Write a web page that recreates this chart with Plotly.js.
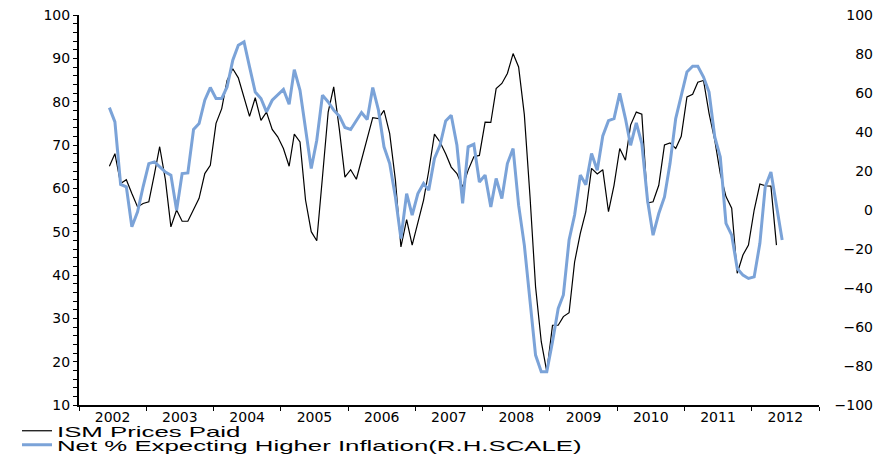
<!DOCTYPE html>
<html>
<head>
<meta charset="utf-8">
<script src="https://cdn.plot.ly/plotly-3.0.1.min.js"></script>
<style>
  html, body { margin: 0; padding: 0; background: #ffffff; }
  #chart { width: 885px; height: 454px; }
  /* the reference legend text is drawn horizontally stretched */
  #chart text.legendtext,
  #chart g[class^="legend"] text {
    transform-box: fill-box !important;
    transform-origin: 0 50% !important;
    transform: scaleX(1.72) !important;
  }
  #chart g.scrollbox, #chart g[class^="legend"] { clip-path: none !important; }
</style>
</head>
<body>
<div id="chart"></div>
<script>
// ---- Data (monthly) ----
const seriesNames = ["ISM Prices Paid", "Net % Expecting Higher Inflation(R.H.SCALE)"];
const ismStart = [2002, 6];   // first month of ISM series (year, month)
const netStart = [2002, 6];   // first month of survey series
// ISM Prices Paid (left scale), Jun 2002 - May 2012
const ismPricesPaid = [
  65.1,68.0,61.1,62.0,58.8,55.7,56.5,56.9,63.4,69.6,
  62.0,51.1,55.0,52.4,52.4,55.0,57.7,63.4,65.3,75.0,
  78.4,84.9,87.6,85.5,81.1,76.6,80.9,75.7,77.6,73.6,
  71.9,69.2,65.1,72.5,70.7,57.3,50.0,47.9,62.6,77.6,
  83.4,73.5,62.6,64.3,62.1,66.5,71.1,76.3,76.1,78.0,
  72.6,61.9,46.5,52.8,46.9,51.9,57.3,64.0,72.5,70.7,
  68.0,64.9,63.4,60.3,64.2,67.3,67.6,75.3,75.2,83.0,
  84.2,86.5,91.1,88.0,77.0,58.0,37.3,24.6,17.7,28.4,
  28.4,30.4,31.3,43.0,49.6,54.6,64.6,63.3,64.3,54.6,
  60.7,69.2,66.5,74.6,77.6,77.1,56.6,56.9,60.7,70.0,
  70.5,69.2,72.0,81.1,81.7,84.5,84.9,77.3,71.1,63.4,
  58.1,55.4,40.4,44.6,46.9,55.0,61.0,60.6,60.5,46.9
];
// Net % expecting higher inflation (right scale), Jun 2002 - Jun 2012
const netExpectingHigher = [
  52.5,45.2,13.1,11.9,-8.6,-0.9,11.9,23.8,24.7,22.1,
  19.5,17.9,-0.1,18.7,19.0,41.3,44.3,56.3,62.8,57.2,
  57.2,63.1,76.8,84.5,86.2,73.4,60.5,57.2,50.3,56.3,
  58.9,61.8,54.2,72.0,61.4,41.8,21.3,35.8,58.9,55.4,
  51.2,48.1,42.3,41.3,46.0,50.0,46.4,62.8,51.2,32.4,
  23.8,6.7,-14.6,8.4,-2.6,8.4,13.6,10.2,26.4,33.2,
  45.7,48.6,33.2,3.4,32.4,33.7,14.4,17.9,1.6,16.2,
  5.9,23.8,31.5,2.5,-18.0,-45.0,-74.4,-82.9,-82.9,-67.6,
  -50.5,-43.6,-15.4,-2.6,17.9,13.0,29.0,20.4,38.0,45.8,
  46.9,59.8,46.9,33.2,44.7,34.1,5.0,-12.9,-1.8,6.7,
  23.8,46.9,58.9,70.8,73.7,73.7,68.2,60.5,37.5,27.2,
  -6.9,-12.9,-30.0,-33.4,-35.1,-34.3,-17.1,11.9,19.5,1.6,
  -15.4
];
const leftTicks = [10,20,30,40,50,60,70,80,90,100];
const rightTicks = [-100,-80,-60,-40,-20,0,20,40,60,80,100];

// month labels for each observation (mid-month)
function monthDates(start, n) {
  const out = [];
  for (let i = 0; i < n; i++) {
    const m0 = start[1] - 1 + i;
    const y = start[0] + Math.floor(m0 / 12);
    const m = (m0 % 12) + 1;
    out.push(y + "-" + String(m).padStart(2, "0") + "-15");
  }
  return out;
}

const W = 885, ML = 79, MR = 10, MT = 15, MB = 49;
const paperW = W - ML - MR;           // 796
const paperH = 454 - MT - MB;         // 390
const plotRight = 819;
const px = v => (v - ML) / paperW;    // pixel -> paper x
const py = v => (454 - MB - v) / paperH; // pixel -> paper y

const tickFont = {family: "DejaVu Sans, Liberation Sans, Arial", size: 14, color: "#000"};

const traces = [
  {
    x: monthDates(ismStart, ismPricesPaid.length), y: ismPricesPaid,
    name: seriesNames[0], type: "scatter", mode: "lines",
    line: {color: "#000000", width: 1.2},
    xaxis: "x", yaxis: "y", legend: "legend", hoverinfo: "skip"
  },
  {
    x: monthDates(netStart, netExpectingHigher.length), y: netExpectingHigher,
    name: seriesNames[1], type: "scatter", mode: "lines",
    line: {color: "#7ba3d8", width: 3},
    xaxis: "x", yaxis: "y3", legend: "legend2", hoverinfo: "skip"
  }
];

const legendFont = {family: "Liberation Sans, Arial", size: 15, color: "#000"};
const layout = {
  width: 885, height: 454,
  margin: {l: ML, r: MR, t: MT, b: MB, pad: 0, autoexpand: false},
  paper_bgcolor: "#fff", plot_bgcolor: "#fff",
  showlegend: true,
  xaxis: {
    type: "date", domain: [0, px(plotRight)],
    range: ["2002-01-01", "2013-01-01"],
    tick0: "2002-01-01", dtick: "M12", tickformat: "%Y",
    ticklabelmode: "period", ticklabelstandoff: -6,
    ticks: "outside", ticklen: 4, tickwidth: 1, tickcolor: "#000",
    showline: true, linecolor: "#000", linewidth: 2,
    showgrid: false, zeroline: false, tickfont: tickFont
  },
  yaxis: {
    range: [10, 100], tickvals: leftTicks,
    ticks: "outside", ticklen: 4, tickwidth: 1, tickcolor: "#000",
    minor: {dtick: 2, ticks: "outside", ticklen: 4, tickcolor: "#000", showgrid: false},
    showline: true, linecolor: "#000", linewidth: 2,
    showgrid: false, zeroline: false, tickfont: tickFont
  },
  yaxis2: {
    overlaying: "y", side: "right", anchor: "x",
    range: [-100, 100], tickvals: rightTicks, showticklabels: false,
    ticks: "outside", ticklen: 4, tickwidth: 1, tickcolor: "#000",
    minor: {dtick: 4, ticks: "outside", ticklen: 4, tickcolor: "#000", showgrid: false},
    showline: true, linecolor: "#000", linewidth: 1.5,
    showgrid: false, zeroline: false
  },
  yaxis3: {
    overlaying: "y", side: "left", anchor: "free", position: px(873),
    range: [-100, 100], tickvals: rightTicks,
    ticks: "", showline: false, showgrid: false, zeroline: false,
    tickfont: tickFont
  },
  legend: {
    x: px(17), xanchor: "left", y: py(431), yanchor: "middle",
    bgcolor: "rgba(0,0,0,0)", borderwidth: 0, font: legendFont
  },
  legend2: {
    x: px(17), xanchor: "left", y: py(445), yanchor: "middle",
    bgcolor: "rgba(0,0,0,0)", borderwidth: 0, font: legendFont
  }
};

Plotly.newPlot("chart", traces, layout, {displayModeBar: false, staticPlot: true});
</script>
</body>
</html>
